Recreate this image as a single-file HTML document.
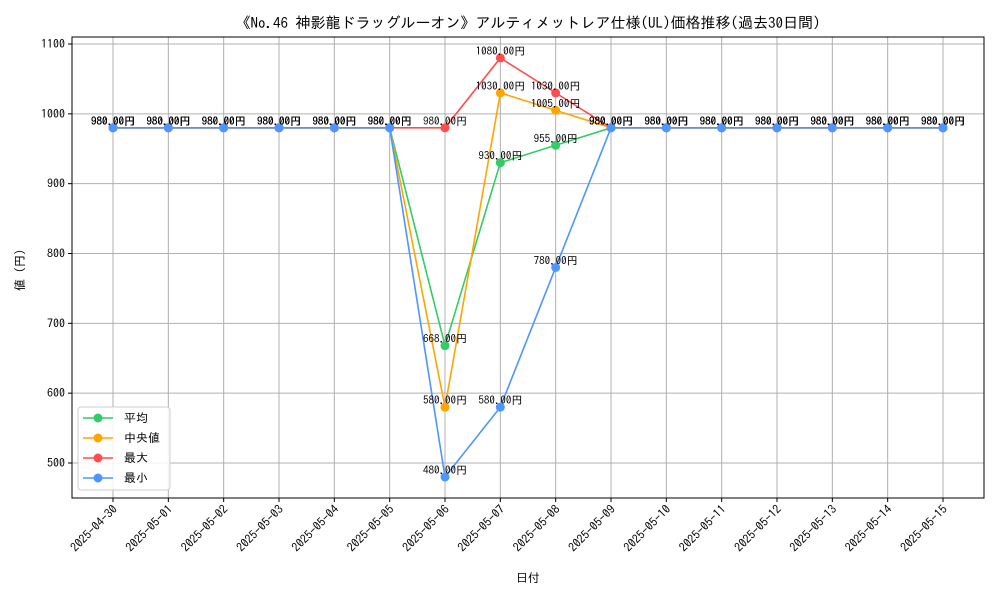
<!DOCTYPE html>
<html><head><meta charset="utf-8"><style>
body{margin:0;background:#fff}
svg{font-family:"IPAGothic","Noto Sans CJK JP",sans-serif}
</style></head><body>
<svg id="c" width="1000" height="600" xmlns="http://www.w3.org/2000/svg">
<rect width="1000" height="600" fill="#fff"/>
<text x="528" y="28" font-size="15" text-anchor="middle">《No.46 神影龍ドラッグルーオン》アルティメットレア仕様(UL)価格推移(過去30日間)</text>
<g id="grid"></g><g id="axes"></g><g id="series"></g><g id="labels"></g>
<rect x="72" y="37" width="912" height="461" fill="none" stroke="#000" stroke-width="1"/>
<text x="528" y="582" font-size="12" text-anchor="middle">日付</text>
<text transform="translate(24,270) rotate(-90)" font-size="12" text-anchor="middle">値 (円)</text>
<g>
<rect x="78" y="407" width="92" height="83" rx="3" fill="#fff" fill-opacity="0.85" stroke="#ccc"/>
<g id="legend"></g>
</g>
</svg>
<script>
const dates=["2025-04-30","2025-05-01","2025-05-02","2025-05-03","2025-05-04","2025-05-05","2025-05-06","2025-05-07","2025-05-08","2025-05-09","2025-05-10","2025-05-11","2025-05-12","2025-05-13","2025-05-14","2025-05-15"];
const avgVals=[980,980,980,980,980,980,668,930,955,980,980,980,980,980,980,980];
const medVals=[980,980,980,980,980,980,580,1030,1005,980,980,980,980,980,980,980];
const maxVals=[980,980,980,980,980,980,980,1080,1030,980,980,980,980,980,980,980];
const minVals=[980,980,980,980,980,980,480,580,780,980,980,980,980,980,980,980];
const yTicks=[500,600,700,800,900,1000,1100];
const seriesNames=["平均","中央値","最大","最小"];
const NS="http://www.w3.org/2000/svg";
const X=i=>113+i*(943-113)/(dates.length-1);
const Y=v=>463-(v-500)*(463-44)/600;
function mk(t,a,p){const e=document.createElementNS(NS,t);for(const k in a)e.setAttribute(k,a[k]);document.getElementById(p).appendChild(e);return e;}
yTicks.forEach(v=>{
 const g=mk("line",{x1:72,x2:984,y1:Y(v),y2:Y(v),stroke:"#b0b0b0","stroke-width":1},"grid");
 
 
 const tk=mk("line",{x1:68,x2:72,y1:Y(v),y2:Y(v),stroke:"#000"},"axes");
 
 
 const t=mk("text",{x:65,y:Y(v)+4,"font-size":12,"text-anchor":"end"},"axes");
 t.textContent=v;
 
 
});
dates.forEach((d,i)=>{
 const g=mk("line",{x1:X(i),x2:X(i),y1:37,y2:498,stroke:"#b0b0b0","stroke-width":1},"grid");
 
 
 const tk=mk("line",{x1:X(i),x2:X(i),y1:498,y2:502,stroke:"#000"},"axes");
 
 
 const t=mk("text",{transform:`translate(${X(i)+5},510) rotate(-45)`,"font-size":12,"text-anchor":"end"},"axes");
 t.textContent=d;
 
 
});
const series=[[avgVals,"#33cc66"],[medVals,"#ffa500"],[maxVals,"#ff4d4d"],[minVals,"#4d96ff"]];
series.forEach(([vals,col],si)=>{
 const p=mk("polyline",{points:vals.map((v,i)=>X(i)+","+Y(v)).join(" "),fill:"none",stroke:col,"stroke-width":1.6},"series");
 
 
 vals.forEach((v,i)=>{
  const c=mk("circle",{cx:X(i),cy:Y(v),r:4.5,fill:col},"series");
  
  
  const t=mk("text",{x:X(i),y:Y(v)-3,"font-size":11,"text-anchor":"middle"},"labels");
  t.textContent=v.toFixed(2)+"円";
  
  
 });
 const ly=418+si*20;
 const l=mk("line",{x1:83,x2:113,y1:ly,y2:ly,stroke:col,"stroke-width":1.6},"legend");
 
 
 const lc=mk("circle",{cx:98,cy:ly,r:4.5,fill:col},"legend");
 
 
 const lt=mk("text",{x:124,y:ly+4,"font-size":12},"legend");
 lt.textContent=seriesNames[si];
 
 
});
</script>
</body></html>
